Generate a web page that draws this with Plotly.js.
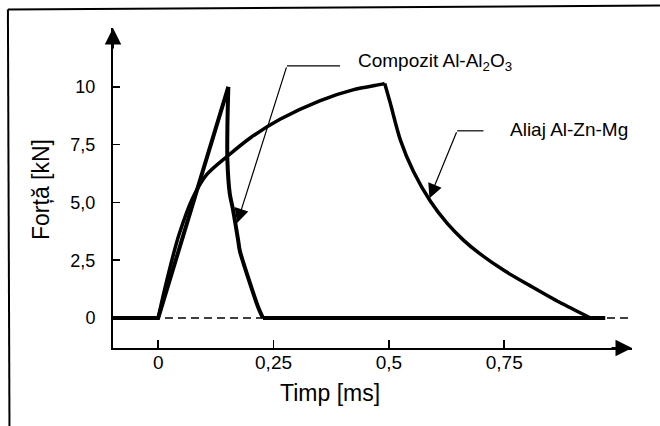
<!DOCTYPE html>
<html>
<head>
<meta charset="utf-8">
<script src="https://cdn.plot.ly/plotly-3.0.1.min.js"></script>
<style>html,body{margin:0;padding:0;background:#fff;}#chart{width:660px;height:426px;}</style>
</head>
<body>
<div id="chart"></div>
<script>
// Time [ms] and force [kN]
var compozitT = [-0.098, 0, 0.152, 0.150, 0.150, 0.155, 0.162, 0.173, 0.177, 0.199, 0.216, 0.227, 0.969];
var compozitF = [0, 0, 10.0, 8.3, 6.8, 5.4, 4.7, 3.4, 2.9, 1.5, 0.5, 0, 0];

var aliajT = [0, 0.010, 0.027, 0.045, 0.075, 0.105, 0.150, 0.200, 0.264, 0.350, 0.422, 0.488, 0.491, 0.503, 0.525, 0.553, 0.590, 0.626, 0.661, 0.697, 0.750, 0.806, 0.870, 0.937];
var aliajF = [0, 0.9, 2.3, 3.6, 5.2, 6.2, 7.0, 7.8, 8.6, 9.4, 9.87, 10.13, 10.15, 9.3, 7.7, 6.35, 5.05, 4.1, 3.38, 2.78, 2.05, 1.4, 0.68, 0];

var baselineT = [-0.098, 1.025];
var baselineF = [0, 0];

var xTickVals = [0, 0.25, 0.5, 0.75];
var xTickText = ['0', '0,25', '0,5', '0,75'];
var yTickVals = [0, 2.5, 5, 7.5, 10];
var yTickText = ['0', '2,5', '5,0', '7,5', '10'];

var labelCompozit = 'Compozit Al-Al<sub>2</sub>O<sub>3</sub>';
var labelAliaj = 'Aliaj Al-Zn-Mg';
var titleX = 'Timp [ms]';
var titleY = 'Forță [kN]';

var FONT = 'Liberation Sans, Arial, Helvetica, sans-serif';

// split points (peak / end of pulse) so sharp corners stay sharp
var cPeak = 2, cEnd = 11, aPeak = 12;

function seg(xs, ys, a, b, w, shape) {
  return {x: xs.slice(a, b), y: ys.slice(a, b), mode: 'lines',
          line: {color: '#000', width: w, shape: shape, smoothing: 0.8}, hoverinfo: 'skip'};
}

var traces = [
  {x: baselineT, y: baselineF, mode: 'lines', line: {color: '#000', width: 1.5, dash: '8px,5px'}, hoverinfo: 'skip'},
  seg(aliajT, aliajF, 0, aPeak + 1, 3.5, 'spline'),
  seg(aliajT, aliajF, aPeak, aliajT.length, 3.5, 'spline'),
  seg(compozitT, compozitF, 0, cPeak + 1, 4, 'linear'),
  seg(compozitT, compozitF, cPeak, cEnd + 1, 4, 'spline'),
  seg(compozitT, compozitF, cEnd, compozitT.length, 4, 'linear'),
  // leader lines
  {x: [0.394, 0.279], y: [10.91, 10.91], mode: 'lines', line: {color: '#000', width: 1.2}, hoverinfo: 'skip'},
  {x: [0.705, 0.648], y: [8.10, 8.10], mode: 'lines', line: {color: '#000', width: 1.2}, hoverinfo: 'skip'}
];

var layout = {
  width: 660, height: 426,
  margin: {l: 113, r: 28, t: 28, b: 78},
  paper_bgcolor: '#fff', plot_bgcolor: '#fff',
  showlegend: false,
  font: {family: FONT, color: '#000', size: 16},
  xaxis: {
    range: [-0.098, 1.027], showgrid: false, zeroline: false,
    showline: true, linecolor: '#000', linewidth: 2,
    ticks: 'inside', ticklen: 8, tickwidth: 1.5, tickcolor: '#000',
    tickvals: xTickVals, ticktext: xTickText,
    tickfont: {family: FONT, size: 19, color: '#000'},
    ticklabelstandoff: -4
  },
  yaxis: {
    range: [-1.3, 12.55], showgrid: false, zeroline: false,
    showline: true, linecolor: '#000', linewidth: 2,
    ticks: 'inside', ticklen: 7, tickwidth: 1.5, tickcolor: '#000',
    tickvals: yTickVals, ticktext: yTickText,
    tickfont: {family: FONT, size: 18, color: '#000'},
    ticklabelstandoff: 12
  },
  shapes: [
    {type: 'line', xref: 'paper', yref: 'paper', x0: -0.2025, y0: 1.0578, x1: 1.0539, y1: 1.0703, line: {color: '#000', width: 2}},
    {type: 'line', xref: 'paper', yref: 'paper', x0: -0.2025, y0: 1.0578, x1: -0.1995, y1: -0.2438, line: {color: '#000', width: 2}}
  ],
  annotations: [
    // axis arrows
    {xref: 'paper', yref: 'paper', x: 0, y: 1, ax: 0, ay: 22, text: '', showarrow: true, arrowhead: 2, arrowsize: 1.65, arrowwidth: 2, arrowcolor: '#000'},
    {xref: 'paper', yref: 'paper', x: 1, y: 0, ax: -22, ay: 0, text: '', showarrow: true, arrowhead: 2, arrowsize: 1.65, arrowwidth: 2, arrowcolor: '#000'},
    // leader arrows
    {xref: 'x', yref: 'y', axref: 'x', ayref: 'y', x: 0.171, y: 4.11, ax: 0.279, ay: 10.91, text: '', showarrow: true, arrowhead: 2, arrowsize: 2.4, arrowwidth: 1.2, arrowcolor: '#000'},
    {xref: 'x', yref: 'y', axref: 'x', ayref: 'y', x: 0.588, y: 5.18, ax: 0.648, ay: 8.10, text: '', showarrow: true, arrowhead: 2, arrowsize: 2.4, arrowwidth: 1.2, arrowcolor: '#000'},
    // labels
    {xref: 'x', yref: 'y', x: 0.428, y: 11.08, xanchor: 'left', yanchor: 'middle', text: labelCompozit, showarrow: false, font: {family: FONT, size: 19, color: '#000'}},
    {xref: 'x', yref: 'y', x: 0.758, y: 8.14, xanchor: 'left', yanchor: 'middle', text: labelAliaj, showarrow: false, font: {family: FONT, size: 19, color: '#000'}},
    // axis titles
    {xref: 'paper', yref: 'paper', x: (330 - 113) / 519, y: (348 - 393) / 320, xanchor: 'center', yanchor: 'middle', text: titleX, showarrow: false, font: {family: FONT, size: 23, color: '#000'}},
    {xref: 'paper', yref: 'paper', x: (41 - 113) / 519, y: (348 - 190) / 320, xanchor: 'center', yanchor: 'middle', textangle: -90, text: titleY, showarrow: false, font: {family: FONT, size: 23, color: '#000'}}
  ]
};

Plotly.newPlot('chart', traces, layout, {displayModeBar: false, staticPlot: true});
</script>
</body>
</html>
